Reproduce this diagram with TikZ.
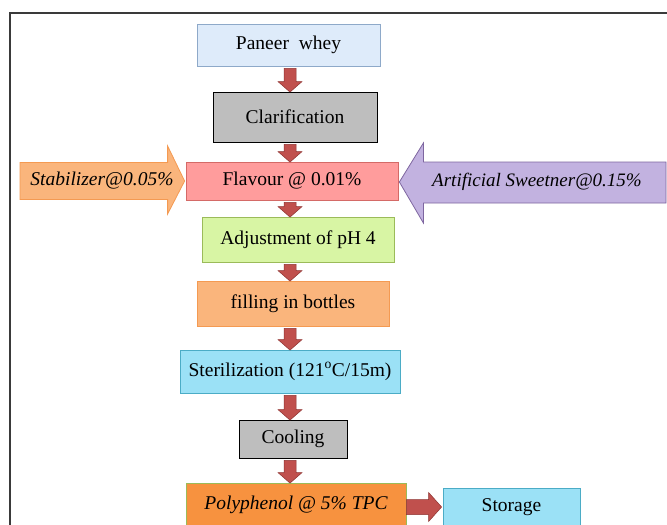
\documentclass[tikz,border=0pt]{standalone}
\usepackage{fontspec}
\setmainfont{Liberation Serif}
\usetikzlibrary{calc}
\definecolor{redA}{HTML}{C0504D}
\definecolor{redB}{HTML}{8E3331}
\definecolor{paneerF}{HTML}{DEEBFA}
\definecolor{paneerD}{HTML}{8EA9C9}
\definecolor{greyF}{HTML}{BEBEBE}
\definecolor{flavF}{HTML}{FF9C9C}
\definecolor{flavD}{HTML}{D46A67}
\definecolor{orangeF}{HTML}{FAB57C}
\definecolor{orangeD}{HTML}{F49A52}
\definecolor{purpleF}{HTML}{C2B2E0}
\definecolor{purpleD}{HTML}{7E66A0}
\definecolor{greenF}{HTML}{D8F5A4}
\definecolor{greenD}{HTML}{9BBB59}
\definecolor{cyanF}{HTML}{9BE1F6}
\definecolor{cyanD}{HTML}{4BACC6}
\definecolor{polyF}{HTML}{F7923F}
\definecolor{frameC}{HTML}{3A3A3A}
\tikzset{
  box/.style={draw, line width=0.8pt, inner sep=0pt, font=\fontsize{19.5}{22}\selectfont, align=center},
  redarrow/.style={fill=redA, draw=redB, line width=0.5pt},
  sidelabel/.style={font=\fontsize{19.5}{22}\selectfont\itshape, inner sep=0pt},
  framestyle/.style={draw=frameC, line width=1.2pt}
}
\newcommand\dnarr[2]{\path[redarrow] let \p1=(#1.south), \p2=(#2.north) in
  (284pt,{\y1-2pt}) -- (296pt,{\y1-2pt}) -- (296pt,{\y2+10pt}) -- (302pt,{\y2+10pt})
  -- (290pt,{\y2-0.5pt}) -- (278pt,{\y2+10pt}) -- (284pt,{\y2+10pt}) -- cycle;}
\begin{document}
\begin{tikzpicture}[x=1pt,y=-1pt]
\useasboundingbox (0,0) rectangle (667,525);
\clip (0,0) rectangle (667,525);
\fill[white] (0,0) rectangle (667,525);
\path[framestyle] (10,530) -- (10,13) -- (670,13);

% main column
\node[box, fill=paneerF, draw=paneerD, minimum width=183pt, minimum height=42pt] (paneer) at (288.5,45) {Paneer\ \ whey};
\node[box, fill=greyF, draw=black, minimum width=164pt, minimum height=50pt] (clar) at (295,117) {Clarification};
\node[box, fill=flavF, draw=flavD, minimum width=212pt, minimum height=38pt] (flav) at (292,181) {Flavour @ 0.01\%};
\node[box, fill=greenF, draw=greenD, minimum width=192pt, minimum height=45pt] (adj) at (298,239.5) {Adjustment of pH 4};
\node[box, fill=orangeF, draw=orangeD, minimum width=192pt, minimum height=45pt] (fill) at (293,303.5) {filling in bottles};
\node[box, fill=cyanF, draw=cyanD, minimum width=220pt, minimum height=43pt] (ster) at (290,371.5) {Sterilization (121\textsuperscript{o}C/15m)};
\node[box, fill=greyF, draw=black, minimum width=108pt, minimum height=38pt] (cool) at (293,439) {Cooling};
\node[box, fill=polyF, draw=greenD, minimum width=220pt, minimum height=48pt] (poly) at (296,507) {};
\node[sidelabel] (polytext) at (296,505) {Polyphenol @ 5\% TPC};
\node[box, fill=cyanF, draw=cyanD, minimum width=137pt, minimum height=38pt] (stor) at (511.5,507) {Storage};

% down arrows
\dnarr{paneer}{clar}
\dnarr{clar}{flav}
\dnarr{flav}{adj}
\dnarr{adj}{fill}
\dnarr{fill}{ster}
\dnarr{ster}{cool}
\dnarr{cool}{poly}

% right arrow to storage
\path[redarrow] let \p1=(poly.east), \p2=(stor.west) in
  (\x1,{\y1+7.5pt}) -- ({\x2-14pt},{\y1+7.5pt}) -- ({\x2-14pt},{\y1+14.5pt})
  -- ({\x2-1pt},\y1) -- ({\x2-14pt},{\y1-14.5pt}) -- ({\x2-14pt},{\y1-7.5pt}) -- (\x1,{\y1-7.5pt}) -- cycle;

% stabilizer arrow
\path[fill=orangeF, draw=orangeD, line width=0.8pt] let \p1=(flav.west) in
  (20pt,{\y1+18.5pt}) -- ({\x1-18pt},{\y1+18.5pt}) -- ({\x1-18pt},{\y1+35pt})
  -- ({\x1-1pt},\y1) -- ({\x1-18pt},{\y1-33pt}) -- ({\x1-18pt},{\y1-18.5pt}) -- (20pt,{\y1-18.5pt}) -- cycle;
\node[sidelabel] (stab) at (102,181) {Stabilizer@0.05\%};

% sweetener arrow
\path[fill=purpleF, draw=purpleD, line width=0.8pt] let \p1=(flav.east) in
  (666pt,{\y1+19pt}) -- ({\x1+25pt},{\y1+19pt}) -- ({\x1+25pt},{\y1+38pt})
  -- ({\x1+1pt},{\y1-1pt}) -- ({\x1+25pt},{\y1-42pt}) -- ({\x1+25pt},{\y1-22pt}) -- (666pt,{\y1-22pt}) -- cycle;
\node[sidelabel, font=\fontsize{19}{22}\selectfont\itshape] (sweet) at (537,182) {Artificial Sweetner@0.15\%};
\end{tikzpicture}
\end{document}
